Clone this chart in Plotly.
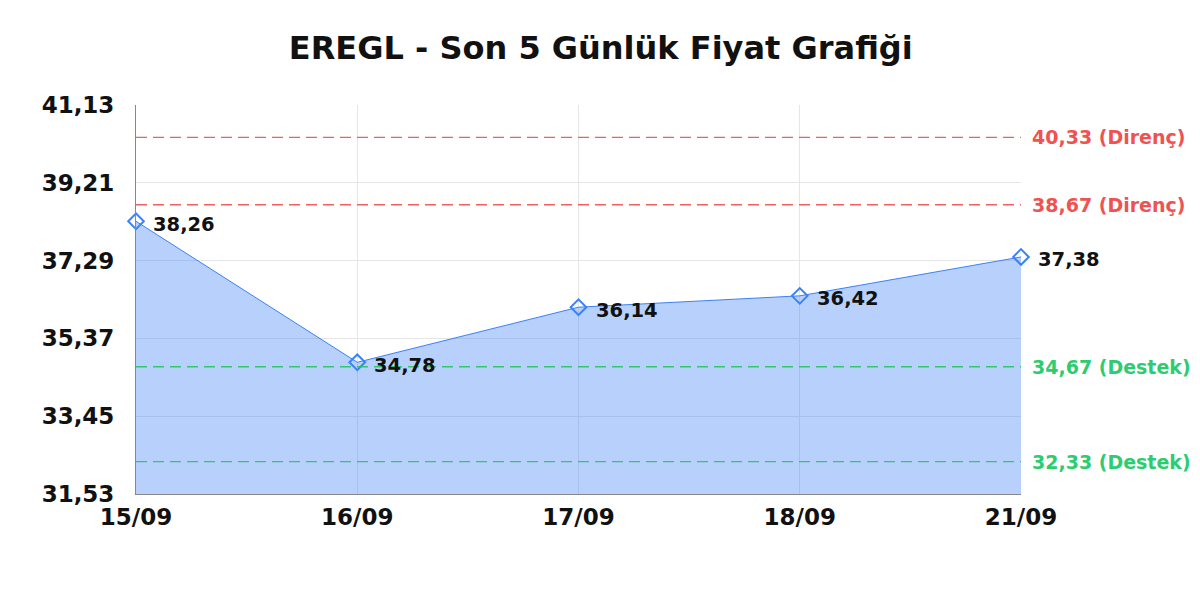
import plotly.graph_objects as go

dates = ["15/09", "16/09", "17/09", "18/09", "21/09"]
prices = [38.26, 34.78, 36.14, 36.42, 37.38]

resistance = [40.33, 38.67]
support = [34.67, 32.33]

y_ticks = [31.53, 33.45, 35.37, 37.29, 39.21, 41.13]

def fmt(v):
    return f"{v:.2f}".replace(".", ",")

fig = go.Figure()

fig.add_trace(go.Scatter(
    x=dates, y=prices,
    mode="lines+markers",
    fill="tozeroy",
    fillcolor="rgba(59,130,246,0.37)",
    line=dict(color="#3b82f6", width=1),
    marker=dict(symbol="diamond-open", size=12, color="#3b82f6", line=dict(width=2)),
    cliponaxis=False,
    showlegend=False,
))

shapes = []
annotations = []
# price labels beside each point
for d, p in zip(dates, prices):
    annotations.append(dict(x=d, y=p, xref="x", yref="y", text=fmt(p), showarrow=False,
                            xanchor="left", xshift=15, yshift=-3,
                            font=dict(family="DejaVu Sans", size=19.5, color="#111111", weight="bold")))
for lvl in resistance:
    shapes.append(dict(type="line", xref="paper", x0=0, x1=1, yref="y", y0=lvl, y1=lvl,
                       line=dict(color="rgba(239,68,68,0.85)", width=1.4, dash="11px,6px")))
    annotations.append(dict(xref="paper", x=1, xanchor="left", xshift=9, yref="y", y=lvl,
                            text=f"{fmt(lvl)} (Direnç)", showarrow=False,
                            font=dict(family="DejaVu Sans", size=19, color="#f05252", weight="bold")))
for lvl in support:
    shapes.append(dict(type="line", xref="paper", x0=0, x1=1, yref="y", y0=lvl, y1=lvl,
                       line=dict(color="rgba(34,197,94,0.9)", width=1.4, dash="11px,6px")))
    annotations.append(dict(xref="paper", x=1, xanchor="left", xshift=9, yref="y", y=lvl,
                            text=f"{fmt(lvl)} (Destek)", showarrow=False,
                            font=dict(family="DejaVu Sans", size=19, color="#2ecc71", weight="bold")))

fig.update_layout(
    width=1200, height=600,
    paper_bgcolor="white", plot_bgcolor="white",
    margin=dict(l=128, r=187, t=97, b=114, autoexpand=False),
    title=dict(text="EREGL - Son 5 Günlük Fiyat Grafiği", x=0.494, xanchor="center", y=0.933, yanchor="middle",
               font=dict(family="DejaVu Sans", size=32, color="#111111", weight="bold")),
    shapes=shapes,
    annotations=annotations,
)

fig.update_xaxes(
    type="category", range=[0, len(dates) - 1],
    showgrid=True, gridcolor="#e6e6e6",
    showline=True, linecolor="#888888", linewidth=1,
    tickfont=dict(family="DejaVu Sans", size=23, color="#111111", weight="bold"),
    ticks="", ticklabelstandoff=2,
)
fig.update_yaxes(
    range=[y_ticks[0], y_ticks[-1]],
    tickvals=y_ticks, ticktext=[fmt(v) for v in y_ticks],
    showgrid=True, gridcolor="#e6e6e6",
    showline=True, linecolor="#888888", linewidth=1,
    zeroline=False,
    tickfont=dict(family="DejaVu Sans", size=23, color="#111111", weight="bold"),
    ticks="", ticklabelstandoff=16,
)

fig.write_html("out.html")
